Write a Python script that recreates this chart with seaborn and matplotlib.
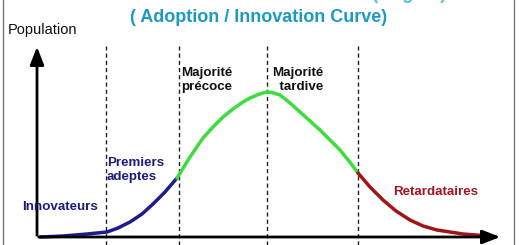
import matplotlib
matplotlib.use("Agg")
import matplotlib.pyplot as plt
import seaborn as sns
import pandas as pd

# ---- data ----
curve_x = [40, 52, 63, 75, 87, 97, 107, 118, 130, 142, 153, 165, 177,
           190, 203, 213, 223, 233, 243, 250, 257, 263, 267, 272, 280, 290, 300, 310, 320,
           330, 340, 349, 358, 370, 383, 396, 410, 423, 437, 450, 463, 476, 490]
curve_pop = [0, 0.5, 1, 2, 3, 4, 5, 9, 15, 23, 33, 45, 59,
             80, 99, 110, 120, 128, 135, 139, 142, 144, 145, 144.5, 142, 134, 125, 116, 107,
             97, 87, 76, 64, 50, 37, 26, 17, 11, 7, 5, 3, 2, 1]
segment_bounds = [177, 358]
segment_names = ["Premiers", "Majorité", "Retardataires"]
segment_colors = ["#1c1c8c", "#3ddd3d", "#a01616"]
divider_x = [106, 179, 267, 358]

title_text = "( Adoption / Innovation Curve)"
top_title = "Courbe de diffusion de l'innovation (Rogers)"
ylabel_text = "Population"
labels = [
    ("Innovateurs", 22, 30, "#1c1c7a"),
    ("Premiers\nadeptes", 107, 67, "#1c1c7a"),
    ("Majorité\nprécoce", 181, 157, "#111111"),
    ("Majorité\n  tardive", 272, 157, "#111111"),
    ("Retardataires", 393, 45, "#a01622"),
]

# build table
rows = []
for x, p in zip(curve_x, curve_pop):
    if x <= segment_bounds[0]:
        rows.append((x, p, segment_names[0]))
    if segment_bounds[0] <= x <= segment_bounds[1]:
        rows.append((x, p, segment_names[1]))
    if x >= segment_bounds[1]:
        rows.append((x, p, segment_names[2]))
df = pd.DataFrame(rows, columns=["x", "pop", "seg"])

sns.set_theme(style="white")
plt.rcParams["font.family"] = ["Liberation Sans", "DejaVu Sans"]

fig = plt.figure(figsize=(5.2, 2.45), dpi=100)
ax = fig.add_axes([0, 0, 1, 1])
ax.set_xlim(0, 520)
ax.set_ylim(-8, 237)
ax.axis("off")

# frame borders
ax.axvline(3, color="#777777", lw=1)
ax.axvline(514, color="#777777", lw=1)

# dashed dividers
ax.vlines(divider_x, -8, 191, colors="#222222", linestyles=(0, (3, 2.2)), lw=1)

# curve
sns.lineplot(data=df, x="x", y="pop", hue="seg", palette=dict(zip(segment_names, segment_colors)),
             estimator=None, sort=False, lw=2.5, legend=False, ax=ax)

# axes arrows
ax.annotate("", xy=(503, 0), xytext=(36, 0),
            arrowprops=dict(arrowstyle="-|>,head_length=0.9,head_width=0.35", color="black", lw=2))
ax.annotate("", xy=(37, 193), xytext=(37, -1),
            arrowprops=dict(arrowstyle="-|>,head_length=0.9,head_width=0.35", color="black", lw=2))

# texts
ax.text(259, 219, title_text, color="#1c9ac4", fontsize=13, fontweight="bold",
        ha="center", va="center")
ax.text(256, 242, top_title, color="#5cbde0", fontsize=13, fontweight="bold",
        ha="center", va="center", clip_on=False)
ax.text(8, 207, ylabel_text, color="#111111", fontsize=10.5, ha="left", va="center")
for txt, x, y, c in labels:
    ax.text(x, y, txt, color=c, fontsize=9.6, fontweight="bold", ha="left", va="center",
            linespacing=1.2)

fig.savefig("out.png", dpi=100)
